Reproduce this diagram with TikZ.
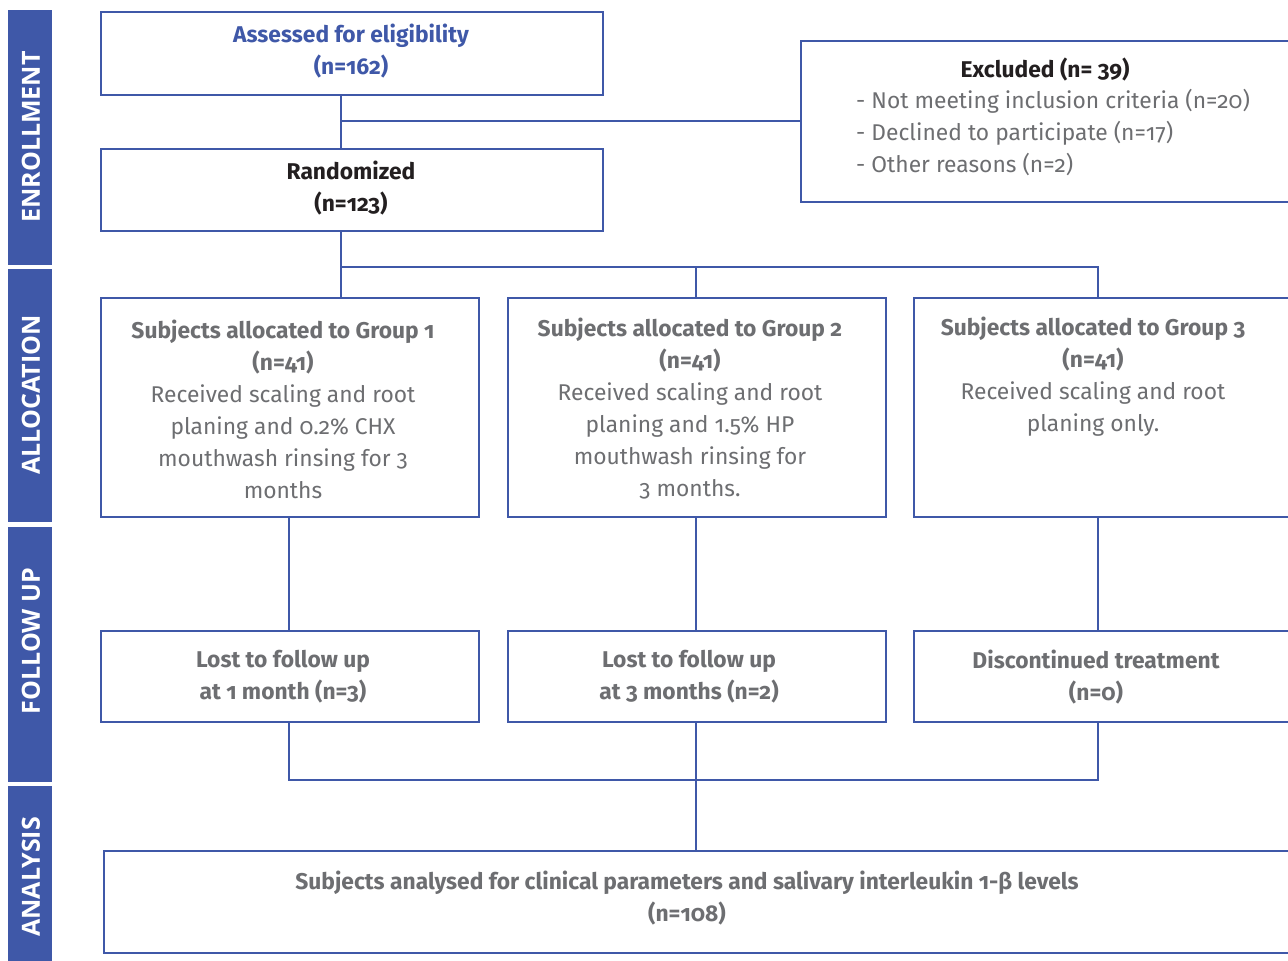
\documentclass[tikz,border=0pt]{standalone}
\usepackage{fontspec}
\setmainfont{Fira Sans}[Numbers=OldStyle]
\newfontfamily\sidefont{Open Sans}
\definecolor{cblue}{HTML}{3F58A8}
\definecolor{cgray}{HTML}{6D6E71}
\definecolor{cdark}{HTML}{231F20}
\tikzset{
  box/.style={draw=cblue, line width=2.4pt, fill=white, anchor=north west, inner sep=0pt},
  conn/.style={draw=cblue, line width=2.4pt},
  band/.style={fill=cblue, draw=none, anchor=north west, inner sep=0pt},
  bandtxt/.style={text=white, font=\sidefont\bfseries\fontsize{25}{28}\selectfont, rotate=90},
  txt/.style={align=center, inner sep=0pt, text=cgray, font=\fontsize{22.8}{32}\selectfont},
  btxt/.style={txt, font=\bfseries\fontsize{22.8}{32}\selectfont},
}
\begin{document}
\begin{tikzpicture}[x=1pt,y=-1pt]
\clip (0,0) rectangle (1288,961);
\fill[white] (0,0) rectangle (1288,961);
% sidebar
\node[band, minimum width=44pt, minimum height=255pt] (b1) at (8,10) {};
\node[band, minimum width=44pt, minimum height=253pt] (b2) at (8,269) {};
\node[band, minimum width=44pt, minimum height=255pt] (b3) at (8,527) {};
\node[band, minimum width=44pt, minimum height=180pt] (b4) at (8,786) {};
\node[bandtxt] (b1t) at (31,137) {ENROLLMENT};
\node[bandtxt] (b2t) at (31,395) {ALLOCATION};
\node[bandtxt] (b3t) at (31,641) {FOLLOW UP};
\node[bandtxt] (b4t) at (31,877) {ANALYSIS};
% junction points
\coordinate (jx) at (341,121);
\coordinate (jr) at (341,267);
\coordinate (jr2) at (696,267);
\coordinate (jr3) at (1098,267);
\coordinate (jl1) at (289,780);
\coordinate (jl3) at (1098,780);
\coordinate (jl2) at (696,780);
% boxes
\node[box, minimum width=502pt, minimum height=83pt] (ass) at (100,11) {};
\node[box, minimum width=502pt, minimum height=82pt] (ran) at (100,148) {};
\node[box, minimum width=520pt, minimum height=161pt] (exc) at (800,40) {};
\node[box, minimum width=378pt, minimum height=219pt] (g1) at (100,297) {};
\node[box, minimum width=378pt, minimum height=219pt] (g2) at (507,297) {};
\node[box, minimum width=400pt, minimum height=219pt] (g3) at (913,297) {};
\node[box, minimum width=378pt, minimum height=91pt] (f1) at (100,630) {};
\node[box, minimum width=378pt, minimum height=91pt] (f2) at (507,630) {};
\node[box, minimum width=400pt, minimum height=91pt] (f3) at (913,630) {};
\node[box, minimum width=1210pt, minimum height=102pt] (ana) at (103,850) {};
% connectors
\draw[conn] (ass.south -| jx) -- (ran.north -| jx);
\draw[conn] (jx) -- (jx -| exc.west);
\draw[conn] (ran.south -| jr) -- (jr) -- (jr3) -- (g3.north -| jr3);
\draw[conn] (jr) -- (g1.north -| jr);
\draw[conn] (jr2) -- (g2.north -| jr2);
\draw[conn] (g1.south -| jl1) -- (f1.north -| jl1);
\draw[conn] (g2.south -| jl2) -- (f2.north -| jl2);
\draw[conn] (g3.south -| jl3) -- (f3.north -| jl3);
\draw[conn] (f1.south -| jl1) -- (jl1) -- (jl3) -- (f3.south -| jl3);
\draw[conn] (f2.south -| jl2) -- (ana.north -| jl2);
% texts
\node[btxt, text=cblue] (asst) at (351,51) {Assessed for eligibility\\(n=162)};
\node[btxt, text=cdark] (rant) at (351,188) {Randomized\\(n=123)};
\node[btxt, text=cdark] (exct) at (1045,70) {Excluded (n= 39)};
\node[txt, align=left, anchor=west] (excl) at (856,133) {- Not meeting inclusion criteria (n=20)\\- Declined to participate (n=17)\\- Other reasons (n=2)};
\node[txt] (g1t) at (283,409) {\textbf{Subjects allocated to Group 1}\\\textbf{(n=41)}\\Received scaling and root\\planing and 0.2\% CHX\\mouthwash rinsing for 3\\months};
\node[txt] (g2t) at (690,409) {\textbf{Subjects allocated to Group 2}\\\textbf{(n=41)}\\Received scaling and root\\planing and 1.5\% HP\\mouthwash rinsing for\\3 months.};
\node[txt] (g3t) at (1093,377) {\textbf{Subjects allocated to Group 3}\\\textbf{(n=41)}\\Received scaling and root\\planing only.};
\node[btxt] (f1t) at (283,677) {Lost to follow up\\at 1 month (n=3)};
\node[btxt] (f2t) at (689,677) {Lost to follow up\\at 3 months (n=2)};
\node[btxt] (f3t) at (1096,677) {Discontinued treatment\\(n=0)};
\node[btxt] (anat) at (687,898) {Subjects analysed for clinical parameters and salivary interleukin 1-β levels\\(n=108)};
\end{tikzpicture}
\end{document}
